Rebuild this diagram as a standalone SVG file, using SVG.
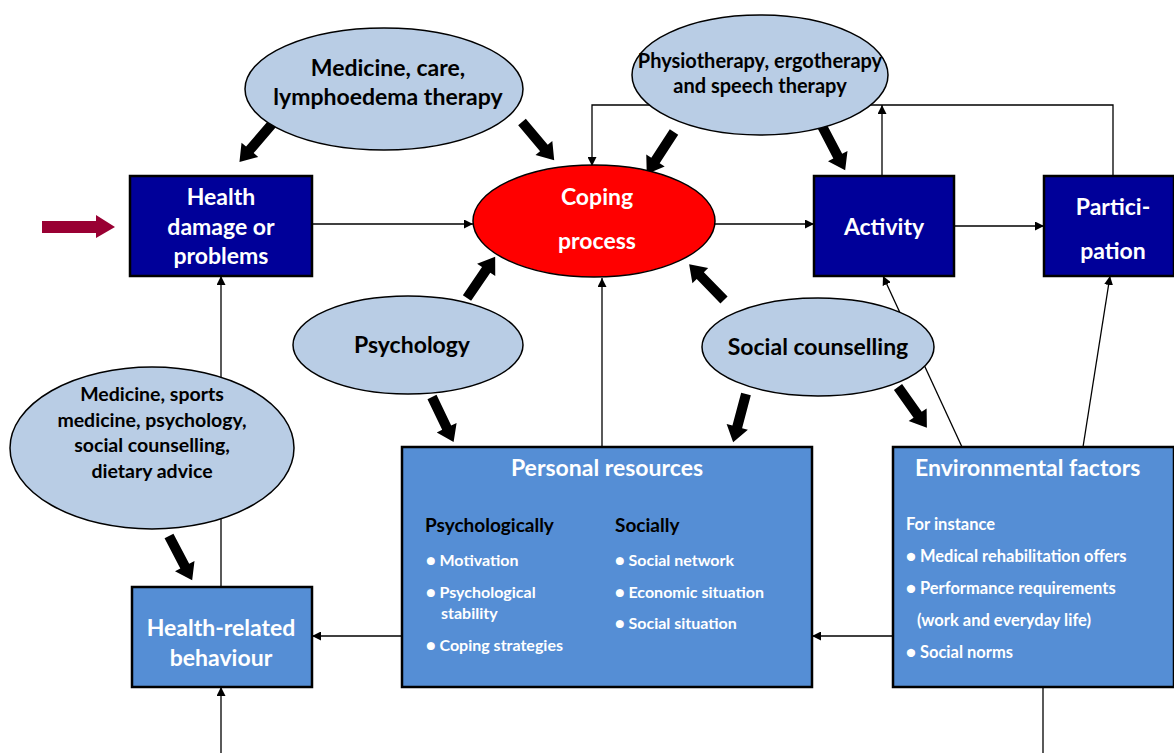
<svg xmlns="http://www.w3.org/2000/svg" xmlns:xlink="http://www.w3.org/1999/xlink" width="1174" height="753" viewBox="0 0 1174 753">
<style>
text{font-family:Lato,"Liberation Sans",sans-serif;font-weight:bold}
.oval{fill:#B9CDE5;stroke:#000;stroke-width:1.5}
.dark{fill:#000099;stroke:#000;stroke-width:2.5}
.mid{fill:#558ED5;stroke:#000;stroke-width:2.5}
.w{fill:#fff}
.k{fill:#000}
.c{text-anchor:middle}
.ln{fill:none;stroke:#000;stroke-width:1.3}
.blk{fill:#000}
</style>
<defs>
<marker id="ah" viewBox="0 0 10 10" refX="10" refY="5" markerWidth="9" markerHeight="9" markerUnits="userSpaceOnUse" orient="auto">
<path d="M0,0 L10,5 L0,10 Z" fill="#000"/>
</marker>
<path id="thick" d="M0,-5 L34,-5 L34,-11 L50,0 L34,11 L34,5 L0,5 Z"/>
</defs>
<rect width="1174" height="753" fill="#fff"/>

<g id="connectors">
<line class="ln" x1="312" y1="224" x2="473" y2="224" marker-end="url(#ah)"/>
<line class="ln" x1="715" y1="224" x2="814" y2="224" marker-end="url(#ah)"/>
<line class="ln" x1="954" y1="226" x2="1044" y2="226" marker-end="url(#ah)"/>
<polyline class="ln" points="1113,176 1113,105 592,105 592,166" marker-end="url(#ah)"/>
<line class="ln" x1="882" y1="176" x2="882" y2="105" marker-end="url(#ah)"/>
<line class="ln" x1="602" y1="447" x2="602" y2="278" marker-end="url(#ah)"/>
<line class="ln" x1="962" y1="447" x2="883" y2="276" marker-end="url(#ah)"/>
<line class="ln" x1="1083" y1="447" x2="1110" y2="276" marker-end="url(#ah)"/>
<line class="ln" x1="893" y1="636" x2="812" y2="636" marker-end="url(#ah)"/>
<line class="ln" x1="402" y1="636" x2="312" y2="636" marker-end="url(#ah)"/>
<line class="ln" x1="221" y1="587" x2="221" y2="276" marker-end="url(#ah)"/>
<line class="ln" x1="221" y1="753" x2="221" y2="687" marker-end="url(#ah)"/>
<line class="ln" x1="1043" y1="687" x2="1043" y2="753"/>
<path d="M42,221 L96,221 L96,215 L115,227 L96,238 L96,233 L42,233 Z" fill="#990033"/>
<use xlink:href="#thick" class="blk" transform="translate(272,124) rotate(130.6)"/>
<use xlink:href="#thick" class="blk" transform="translate(522,122) rotate(49.9)"/>
<use xlink:href="#thick" class="blk" transform="translate(674,132) rotate(123)"/>
<use xlink:href="#thick" class="blk" transform="translate(822,126) rotate(62.4)"/>
<use xlink:href="#thick" class="blk" transform="translate(467,298) rotate(-55.7)"/>
<use xlink:href="#thick" class="blk" transform="translate(724,300) rotate(-134.2)"/>
<use xlink:href="#thick" class="blk" transform="translate(432,397) rotate(64.4)"/>
<use xlink:href="#thick" class="blk" transform="translate(746,394) rotate(104.9)"/>
<use xlink:href="#thick" class="blk" transform="translate(898,387) rotate(54.7)"/>
<use xlink:href="#thick" class="blk" transform="translate(169,536) rotate(62.4)"/>
</g>

<g id="health-damage">
<rect class="dark" x="130" y="176" width="182" height="100"/>
<text class="w c" x="221" y="205" font-size="23">Health</text>
<text class="w c" x="221" y="235" font-size="23">damage or</text>
<text class="w c" x="221" y="264" font-size="23">problems</text>
</g>

<g id="medicine-care">
<ellipse class="oval" cx="384" cy="89" rx="139" ry="61"/>
<text class="k c" x="388" y="76" font-size="23">Medicine, care,</text>
<text class="k c" x="388" y="105" font-size="23">lymphoedema therapy</text>
</g>

<g id="coping">
<ellipse cx="594" cy="221" rx="121" ry="56" fill="#FF0000" stroke="#000" stroke-width="1.5"/>
<text class="w c" x="597" y="205" font-size="23">Coping</text>
<text class="w c" x="597" y="249" font-size="23">process</text>
</g>

<g id="physio">
<ellipse class="oval" cx="760" cy="75" rx="128" ry="60"/>
<text class="k c" x="760" y="68" font-size="20">Physiotherapy, ergotherapy</text>
<text class="k c" x="760" y="93" font-size="20">and speech therapy</text>
</g>

<g id="activity">
<rect class="dark" x="814" y="176" width="140" height="100"/>
<text class="w c" x="884" y="235" font-size="23">Activity</text>
</g>

<g id="participation">
<rect class="dark" x="1044" y="176" width="130" height="100"/>
<text class="w c" x="1113" y="215" font-size="23">Partici-</text>
<text class="w c" x="1113" y="259" font-size="23">pation</text>
</g>

<g id="psychology">
<ellipse class="oval" cx="408" cy="345" rx="115" ry="49"/>
<text class="k c" x="412" y="353" font-size="23">Psychology</text>
</g>

<g id="social-counselling">
<ellipse class="oval" cx="818" cy="347" rx="116" ry="49"/>
<text class="k c" x="818" y="355" font-size="23">Social counselling</text>
</g>

<g id="medicine-sports">
<ellipse class="oval" cx="152" cy="448" rx="142" ry="81"/>
<text class="k c" x="152" y="401" font-size="19.5">Medicine, sports</text>
<text class="k c" x="152" y="427" font-size="19.5">medicine, psychology,</text>
<text class="k c" x="152" y="452" font-size="19.5">social counselling,</text>
<text class="k c" x="152" y="478" font-size="19.5">dietary advice</text>
</g>

<g id="health-behaviour">
<rect class="mid" x="132" y="587" width="180" height="100"/>
<text class="w c" x="221" y="636" font-size="23">Health-related</text>
<text class="w c" x="221" y="666" font-size="23">behaviour</text>
</g>

<g id="personal-resources">
<rect class="mid" x="402" y="447" width="410" height="240"/>
<text class="w c" x="607" y="476" font-size="23">Personal resources</text>
<text class="k" x="425" y="532" font-size="19">Psychologically</text>
<text class="k" x="615" y="532" font-size="19">Socially</text>
<g class="w" font-size="16">
<text x="426" y="566">● Motivation</text>
<text x="426" y="598">● Psychological</text>
<text x="441" y="619">stability</text>
<text x="426" y="651">● Coping strategies</text>
<text x="615" y="566">● Social network</text>
<text x="615" y="598">● Economic situation</text>
<text x="615" y="629">● Social situation</text>
</g>
</g>

<g id="environmental">
<rect class="mid" x="893" y="447" width="281" height="240"/>
<text class="w" x="915" y="476" font-size="23">Environmental factors</text>
<g class="w" font-size="16.5">
<text x="906" y="530">For instance</text>
<text x="906" y="562">● Medical rehabilitation  offers</text>
<text x="906" y="594">● Performance requirements</text>
<text x="917" y="626">(work and  everyday life)</text>
<text x="906" y="658">● Social norms</text>
</g>
</g>
</svg>
